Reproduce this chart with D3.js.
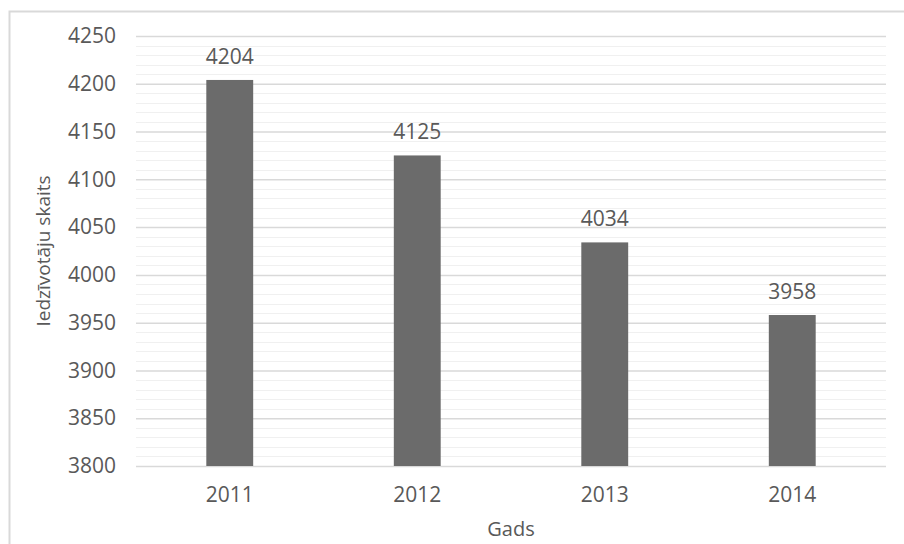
<!DOCTYPE html>
<html>
<head>
<meta charset="utf-8">
<script src="https://cdn.jsdelivr.net/npm/d3@7"></script>
<style>
  body { margin: 0; background: #fff; }
  svg text { font-family: "Open Sans", sans-serif; fill: #595959; }
</style>
</head>
<body>
<svg id="chart" width="904" height="544"></svg>
<script>
// data
const years = ["2011", "2012", "2013", "2014"];
const population = [4204, 4125, 4034, 3958];
const yTicks = [3800, 3850, 3900, 3950, 4000, 4050, 4100, 4150, 4200, 4250];

const svg = d3.select("#chart");
const margin = {top: 36, right: 18, bottom: 78, left: 136};
const width = +svg.attr("width");
const height = +svg.attr("height");

// chart frame (only top and left edges show in the crop)
svg.append("path")
  .attr("d", `M9.5,${height} V11.5 H${width}`)
  .attr("fill", "none")
  .attr("stroke", "#d9d9d9")
  .attr("stroke-width", 2);

const x = d3.scaleBand()
  .domain(years)
  .range([margin.left, width - margin.right])
  .paddingInner(0.75)
  .paddingOuter(0.375);

const y = d3.scaleLinear()
  .domain([3800, 4250])
  .range([height - margin.bottom, margin.top]);

// minor gridlines every 10
const minor = d3.range(3800, 4251, 10).filter(v => v % 50 !== 0);
svg.append("g")
  .selectAll("line")
  .data(minor)
  .join("line")
  .attr("x1", margin.left)
  .attr("x2", width - margin.right)
  .attr("y1", d => Math.round(y(d)) + 0.5)
  .attr("y2", d => Math.round(y(d)) + 0.5)
  .attr("stroke", "#f0f0f0");

// major gridlines + labels via axis
const yAxis = svg.append("g")
  .attr("transform", `translate(${margin.left},0)`)
  .call(d3.axisLeft(y).tickValues(yTicks).tickFormat(d3.format("d"))
    .tickSize(-(width - margin.left - margin.right)).tickPadding(20));
yAxis.select(".domain").remove();
yAxis.selectAll(".tick line").attr("stroke", "#d9d9d9").attr("stroke-width", 1.5);
yAxis.selectAll(".tick text")
  .attr("font-size", 21)
  .attr("font-family", "Open Sans, sans-serif")
  .attr("fill", "#595959");

// bars
svg.append("g")
  .selectAll("rect")
  .data(population)
  .join("rect")
  .attr("x", (d, i) => x(years[i]))
  .attr("y", d => y(d))
  .attr("width", x.bandwidth())
  .attr("height", d => y(3800) - y(d))
  .attr("fill", "#6b6b6b");

// value labels
svg.append("g")
  .selectAll("text")
  .data(population)
  .join("text")
  .text(d => d)
  .attr("x", (d, i) => x(years[i]) + x.bandwidth() / 2)
  .attr("y", d => y(d) - 16)
  .attr("text-anchor", "middle")
  .attr("font-size", 21)
  .attr("fill", "#404040");

// x axis labels
const xAxis = svg.append("g")
  .attr("transform", `translate(0,${height - margin.bottom})`)
  .call(d3.axisBottom(x).tickSize(0).tickPadding(21));
xAxis.select(".domain").remove();
xAxis.selectAll(".tick text")
  .attr("font-size", 21)
  .attr("font-family", "Open Sans, sans-serif")
  .attr("fill", "#595959");

// axis titles
svg.append("text")
  .text("Gads")
  .attr("x", (margin.left + width - margin.right) / 2)
  .attr("y", 536)
  .attr("text-anchor", "middle")
  .attr("font-size", 20);

svg.append("text")
  .text("Iedzīvotāju skaits")
  .attr("transform", `translate(50,${(margin.top + height - margin.bottom) / 2}) rotate(-90)`)
  .attr("text-anchor", "middle")
  .attr("font-size", 19);
</script>
</body>
</html>
